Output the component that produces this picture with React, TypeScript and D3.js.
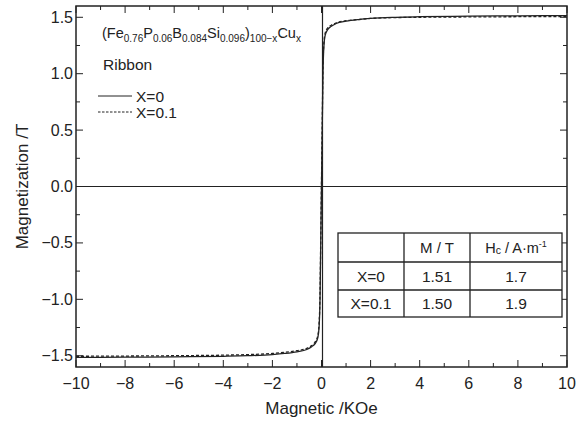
import React from "react";
import * as d3 from "d3";

// applied field (kOe) and magnetization (T)
const fieldH = [-10, -8, -6, -4, -3, -2, -1.5, -1, -0.6, -0.4, -0.25, -0.15, -0.1, -0.06, -0.03, 0, 0.03, 0.06, 0.1, 0.15, 0.25, 0.4, 0.6, 1, 1.5, 2, 3, 4, 6, 8, 10];
const magX0 = [-1.515, -1.513, -1.51, -1.505, -1.5, -1.49, -1.48, -1.465, -1.445, -1.42, -1.39, -1.34, -1.25, -1.0, -0.5, 0.0, 0.5, 1.0, 1.25, 1.34, 1.39, 1.42, 1.445, 1.465, 1.48, 1.49, 1.5, 1.505, 1.51, 1.513, 1.515];
const magX01 = [-1.505, -1.503, -1.5, -1.495, -1.49, -1.48, -1.47, -1.455, -1.435, -1.41, -1.375, -1.32, -1.22, -0.95, -0.45, 0.05, 0.55, 1.05, 1.28, 1.36, 1.405, 1.43, 1.45, 1.47, 1.48, 1.49, 1.497, 1.5, 1.503, 1.505, 1.507];

const xTicks = [-10, -8, -6, -4, -2, 0, 2, 4, 6, 8, 10];
const yTicks = [-1.5, -1.0, -0.5, 0.0, 0.5, 1.0, 1.5];

const tableRows = ["X=0", "X=0.1"];
const tableM = ["1.51", "1.50"];
const tableHc = ["1.7", "1.9"];

const W = 586;
const H = 421;
const m = { left: 76, right: 19, top: 6, bottom: 54 };
const font = "'Liberation Sans', Arial, sans-serif";
const ink = "#222";

const fmt = (v: number, d: number) => (v < 0 ? "\u2212" : "") + Math.abs(v).toFixed(d);

export default function App() {
  const x = d3.scaleLinear().domain([-10, 10]).range([m.left, W - m.right]);
  const y = d3.scaleLinear().domain([-1.6, 1.6]).range([H - m.bottom, m.top]);

  const line = d3
    .line<number>()
    .x((_, i) => x(fieldH[i]))
    .y((d) => y(d))
    .curve(d3.curveMonotoneX);

  const xMinor = d3.range(-9, 10, 2);
  const yMinor = d3.range(-1.25, 1.5, 0.5);
  const x0 = x.range()[0], x1 = x.range()[1];
  const y0 = y.range()[0], y1 = y.range()[1];

  // table geometry
  const colX = [338, 404, 470, 562];
  const rowY = [233, 262, 290, 317];

  return (
    <svg width={W} height={H} style={{ position: "absolute", left: 0, top: 0, background: "#fff" }} fontFamily={font} fontSize={16} fill={ink}>
      {/* zero lines */}
      <line x1={x0} x2={x1} y1={y(0)} y2={y(0)} stroke={ink} strokeWidth={1} />
      <line x1={x(0) + 1} x2={x(0) + 1} y1={y0} y2={y1} stroke={ink} strokeWidth={1.2} />

      {/* curves */}
      <path d={line(magX01) ?? ""} fill="none" stroke={ink} strokeWidth={1.3} strokeDasharray="3,2" />
      <path d={line(magX0) ?? ""} fill="none" stroke={ink} strokeWidth={1.3} />

      {/* ticks */}
      {xTicks.map((t) => (
        <g key={"xt" + t}>
          <line x1={x(t)} x2={x(t)} y1={y0} y2={y0 - 7} stroke={ink} />
          <line x1={x(t)} x2={x(t)} y1={y1} y2={y1 + 7} stroke={ink} />
          <text x={x(t)} y={y0 + 21.5} textAnchor="middle">{fmt(t, 0)}</text>
        </g>
      ))}
      {xMinor.map((t) => (
        <g key={"xm" + t}>
          <line x1={x(t)} x2={x(t)} y1={y0} y2={y0 - 4} stroke={ink} />
          <line x1={x(t)} x2={x(t)} y1={y1} y2={y1 + 4} stroke={ink} />
        </g>
      ))}
      {yTicks.map((t) => (
        <g key={"yt" + t}>
          <line x1={x0} x2={x0 + 7} y1={y(t)} y2={y(t)} stroke={ink} />
          <line x1={x1} x2={x1 - 7} y1={y(t)} y2={y(t)} stroke={ink} />
          <text x={x0 - 3} y={y(t) + 5.5} textAnchor="end">{fmt(t, 1)}</text>
        </g>
      ))}
      {yMinor.map((t) => (
        <g key={"ym" + t}>
          <line x1={x0} x2={x0 + 4} y1={y(t)} y2={y(t)} stroke={ink} />
          <line x1={x1} x2={x1 - 4} y1={y(t)} y2={y(t)} stroke={ink} />
        </g>
      ))}

      {/* frame */}
      <rect x={x0} y={y1} width={x1 - x0} height={y0 - y1} fill="none" stroke={ink} strokeWidth={1.5} />

      {/* axis titles */}
      <text x={(x0 + x1) / 2} y={414} textAnchor="middle" fontSize={17}>Magnetic /KOe</text>
      <text transform={`translate(28,${(y0 + y1) / 2}) rotate(-90)`} textAnchor="middle" fontSize={17}>Magnetization /T</text>

      {/* composition and legend */}
      <text x={102} y={38} fontSize={14.5}>
        (Fe<tspan dy={4} fontSize={10}>0.76</tspan>
        <tspan dy={-4}>P</tspan><tspan dy={4} fontSize={10}>0.06</tspan>
        <tspan dy={-4}>B</tspan><tspan dy={4} fontSize={10}>0.084</tspan>
        <tspan dy={-4}>Si</tspan><tspan dy={4} fontSize={10}>0.096</tspan>
        <tspan dy={-4}>)</tspan><tspan dy={4} fontSize={10}>100−x</tspan>
        <tspan dy={-4}>Cu</tspan><tspan dy={4} fontSize={10}>x</tspan>
      </text>
      <text x={103} y={70} fontSize={15.5}>Ribbon</text>
      <line x1={98} x2={132} y1={96} y2={96} stroke={ink} strokeWidth={1} />
      <text x={136} y={101.5} fontSize={15.5}>X=0</text>
      <line x1={98} x2={132} y1={112} y2={112} stroke={ink} strokeWidth={1} strokeDasharray="2.5,1.5" />
      <text x={136} y={117.5} fontSize={15.5}>X=0.1</text>

      {/* table */}
      <rect x={colX[0]} y={rowY[0]} width={colX[3] - colX[0]} height={rowY[3] - rowY[0]} fill="#fff" stroke={ink} strokeWidth={1.3} />
      {colX.slice(1, 3).map((cx) => (
        <line key={"c" + cx} x1={cx} x2={cx} y1={rowY[0]} y2={rowY[3]} stroke={ink} strokeWidth={1.3} />
      ))}
      {rowY.slice(1, 3).map((ry) => (
        <line key={"r" + ry} x1={colX[0]} x2={colX[3]} y1={ry} y2={ry} stroke={ink} strokeWidth={1.3} />
      ))}
      <text x={(colX[1] + colX[2]) / 2} y={(rowY[0] + rowY[1]) / 2 + 5.5} textAnchor="middle" fontSize={15}>M / T</text>
      <text x={(colX[2] + colX[3]) / 2} y={(rowY[0] + rowY[1]) / 2 + 5.5} textAnchor="middle" fontSize={14.5}>
        H<tspan fontSize={10.5} dy={1}>c</tspan><tspan dy={-1}> / A·m</tspan><tspan fontSize={9} dy={-6}>-1</tspan>
      </text>
      {tableRows.map((r, i) => {
        const cy = (rowY[i + 1] + rowY[i + 2]) / 2 + 5.5;
        return (
          <g key={r} fontSize={15.5}>
            <text x={(colX[0] + colX[1]) / 2} y={cy} textAnchor="middle">{r}</text>
            <text x={(colX[1] + colX[2]) / 2} y={cy} textAnchor="middle">{tableM[i]}</text>
            <text x={(colX[2] + colX[3]) / 2} y={cy} textAnchor="middle">{tableHc[i]}</text>
          </g>
        );
      })}
    </svg>
  );
}
